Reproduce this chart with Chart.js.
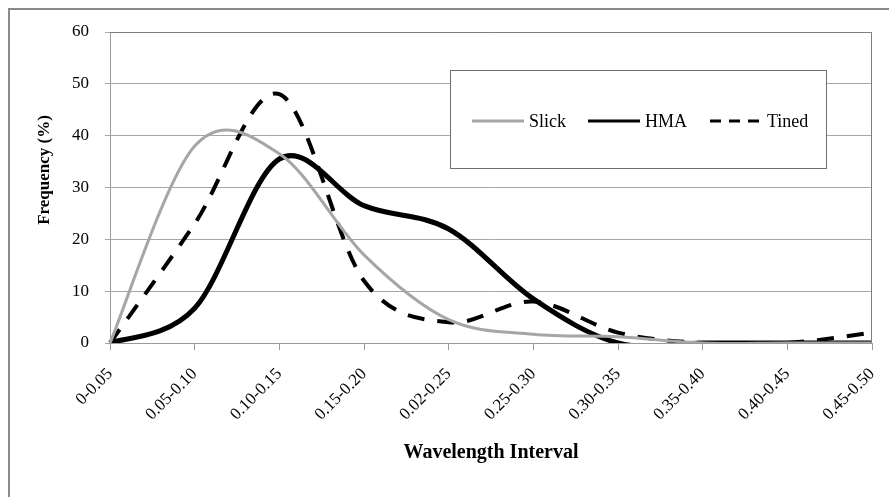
<!DOCTYPE html>
<html>
<head>
<meta charset="utf-8">
<script src="https://cdn.jsdelivr.net/npm/chart.js@4/dist/chart.umd.min.js"></script>
<style>
  body { margin: 0; background: #fff; }
</style>
</head>
<body>
<canvas id="waveChart" width="889" height="497"></canvas>
<script>
const intervals = ['0-0.05', '0.05-0.10', '0.10-0.15', '0.15-0.20', '0.02-0.25',
                   '0.25-0.30', '0.30-0.35', '0.35-0.40', '0.40-0.45', '0.45-0.50'];

const slick = [0, 38, 36.5, 17, 4.5, 1.7, 1.2, 0, 0, 0];
const hma   = [0, 6.7, 35.5, 26.5, 22, 8.5, 0, 0, 0, 0];
const tined = [0, 23, 48, 12, 4, 8, 2, 0, 0, 2];

const yTicks = [0, 10, 20, 30, 40, 50, 60];

const serif = "'Liberation Serif', 'Times New Roman', serif";
const smooth = 1 / 6;

// catmull-rom style control points (even along x) instead of chart.js' distance-weighted ones
const evenSpline = {
  id: 'evenSpline',
  beforeDatasetsDraw(chart) {
    chart.data.datasets.forEach((ds, i) => {
      const meta = chart.getDatasetMeta(i);
      meta.dataset.updateControlPoints(chart.chartArea, 'x');
      const pts = meta.data;
      pts.forEach((p, j) => {
        const prev = pts[Math.max(j - 1, 0)];
        const next = pts[Math.min(j + 1, pts.length - 1)];
        const dx = (next.x - prev.x) * smooth;
        const dy = (next.y - prev.y) * smooth;
        p.cp1x = p.x - dx;
        p.cp1y = p.y - dy;
        p.cp2x = p.x + dx;
        p.cp2y = p.y + dy;
      });
    });
  }
};

// frame, plot border, y title and the boxed legend
const decorations = {
  id: 'decorations',
  beforeDraw(chart) {
    const c = chart.ctx;
    c.save();
    c.strokeStyle = '#8a8a8a';
    c.lineWidth = 2;
    c.beginPath();
    c.moveTo(9, 497);
    c.lineTo(9, 9);
    c.lineTo(889, 9);
    c.stroke();
    c.restore();
  },
  afterDatasetsDraw(chart) {
    const c = chart.ctx;
    const a = chart.chartArea;
    c.save();
    c.strokeStyle = '#7f7f7f';
    c.lineWidth = 1;
    c.beginPath();
    c.moveTo(a.left, a.top + 0.5);
    c.lineTo(a.right - 0.5, a.top + 0.5);
    c.lineTo(a.right - 0.5, a.bottom);
    c.stroke();

    // y axis title
    c.translate(45, 170);
    c.rotate(-Math.PI / 2);
    c.fillStyle = '#000';
    c.font = 'bold 17px ' + serif;
    c.textAlign = 'center';
    c.textBaseline = 'middle';
    c.fillText('Frequency (%)', 0, 0);
    c.restore();

    // legend
    c.save();
    c.fillStyle = '#fff';
    c.fillRect(450.5, 70.5, 376, 98);
    c.strokeStyle = '#6f6f6f';
    c.lineWidth = 1;
    c.strokeRect(450.5, 70.5, 376, 98);
    const starts = [472, 588, 710];
    c.font = '18px ' + serif;
    c.textBaseline = 'middle';
    c.fillStyle = '#000';
    chart.data.datasets.forEach((ds, i) => {
      const x = starts[i];
      c.strokeStyle = ds.borderColor;
      c.lineWidth = 3;
      c.setLineDash(ds.borderDash.length ? [11, 8] : []);
      c.beginPath();
      c.moveTo(x, 121);
      c.lineTo(x + 52, 121);
      c.stroke();
      c.setLineDash([]);
      c.fillText(ds.label, x + 57, 122);
    });
    c.restore();
  }
};

new Chart(document.getElementById('waveChart'), {
  type: 'line',
  data: {
    labels: intervals,
    datasets: [
      { label: 'Slick', data: slick, borderColor: '#a6a6a6', borderWidth: 3, borderDash: [] },
      { label: 'HMA', data: hma, borderColor: '#000', borderWidth: 5, borderDash: [] },
      { label: 'Tined', data: tined, borderColor: '#000', borderWidth: 4, borderDash: [17, 13] }
    ]
  },
  options: {
    responsive: false,
    animation: false,
    layout: { padding: { left: 0, top: 32, right: 17, bottom: 0 } },
    elements: {
      point: { radius: 0 },
      line: { tension: 0.3, fill: false, borderCapStyle: 'butt' }
    },
    plugins: {
      legend: { display: false },
      tooltip: { enabled: false }
    },
    scales: {
      x: {
        afterFit(s) {
          s.height = 154;
          s.paddingLeft = 0;
          s.paddingRight = 0;
        },
        grid: { drawOnChartArea: false, color: '#9a9a9a', tickLength: 7 },
        border: { color: '#9a9a9a' },
        ticks: {
          color: '#000', minRotation: 45, maxRotation: 45, padding: 14,
          autoSkip: false, font: { family: serif, size: 17 }
        },
        title: {
          display: true, text: 'Wavelength Interval', color: '#000',
          font: { family: serif, size: 20, weight: 'bold' },
          padding: { top: 0, bottom: 32 }
        }
      },
      y: {
        afterFit(s) { s.width = 110; },
        min: 0,
        max: 60,
        afterBuildTicks(s) { s.ticks = yTicks.map(v => ({ value: v })); },
        grid: { color: '#a6a6a6', tickLength: 5 },
        border: { color: '#9a9a9a' },
        ticks: { color: '#000', padding: 16, font: { family: serif, size: 17 } }
      }
    }
  },
  plugins: [evenSpline, decorations]
});
</script>
</body>
</html>
